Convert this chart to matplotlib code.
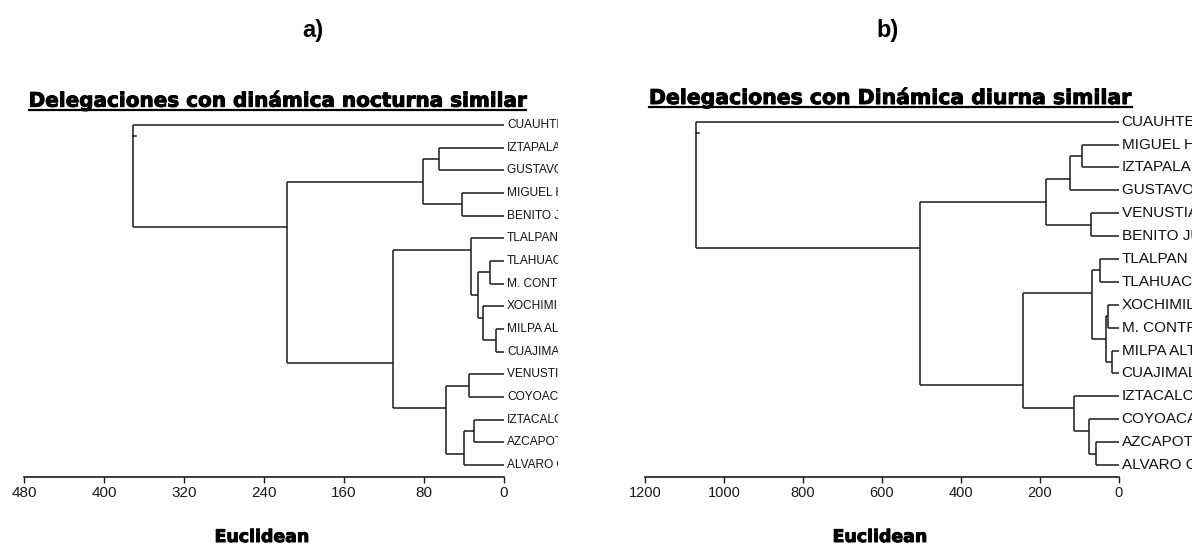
import matplotlib
matplotlib.use("Agg")
import matplotlib.pyplot as plt
import matplotlib.transforms as mtransforms
import matplotlib.patheffects as pe
from matplotlib.lines import Line2D

W, H = 1192, 547

# panel a) - nocturnal dynamics
leaves_a = ["CUAUHTEMOC", "IZTAPALAPA", "GUSTAVO A. MADERO", "MIGUEL HIDALGO",
            "BENITO JUAREZ", "TLALPAN", "TLAHUAC", "M. CONTRERAS", "XOCHIMILCO",
            "MILPA ALTA", "CUAJIMALPA", "VENUSTIANO CARRANZA", "COYOACAN",
            "IZTACALCO", "AZCAPOTZALCO", "ALVARO OBREGON"]
# (upper child, lower child, euclidean distance); new nodes numbered from 16
merges_a = [(9, 10, 7.7), (6, 7, 13.6), (8, 16, 20.6), (17, 18, 25.6),
            (13, 14, 29.6), (5, 19, 33.3), (11, 12, 34.6), (20, 15, 39.6),
            (3, 4, 42.3), (22, 23, 58.3), (1, 2, 65.2), (26, 24, 80.6),
            (21, 25, 111.2), (27, 28, 217.4), (0, 29, 370.8)]
ticks_a = [480, 400, 320, 240, 160, 80, 0]

# panel b) - daytime dynamics
leaves_b = ["CUAUHTEMOC", "MIGUEL HIDALGO", "IZTAPALAPA", "GUSTAVO A. MADERO",
            "VENUSTIANO CARRANZA", "BENITO JUAREZ", "TLALPAN", "TLAHUAC",
            "XOCHIMILCO", "M. CONTRERAS", "MILPA ALTA", "CUAJIMALPA",
            "IZTACALCO", "COYOACAN", "AZCAPOTZALCO", "ALVARO OBREGON"]
merges_b = [(10, 11, 17.0), (8, 9, 28.0), (17, 16, 31.0), (6, 7, 46.5),
            (14, 15, 58.0), (4, 5, 69.0), (19, 18, 67.0), (13, 20, 74.0),
            (1, 2, 92.0), (12, 23, 112.0), (24, 3, 122.5), (26, 21, 183.0),
            (22, 25, 242.5), (27, 28, 504.0), (0, 29, 1070.0)]
ticks_b = [1200, 1000, 800, 600, 400, 200, 0]

LINE = "#1a1a1a"
plt.rcParams["font.family"] = ["Liberation Sans", "DejaVu Sans"]
HEAVY = [pe.withStroke(linewidth=0.7, foreground="black")]

fig = plt.figure(figsize=(W / 100, H / 100), dpi=100)


def px_axes(left, right, top, bottom):
    return fig.add_axes([left / W, 1 - bottom / H, (right - left) / W, (bottom - top) / H])


def draw_dendro(ax, leaves, merges, xmax, label_size, tick_size):
    n = len(leaves)
    nodes = [(i, i, float(i), 0.0) for i in range(n)]
    for a, b, h in merges:
        fa, la, ya, ha = nodes[a]
        fb, lb, yb, hb = nodes[b]
        ax.plot([ha, h], [ya, ya], color=LINE, lw=1.1, solid_capstyle="butt")
        ax.plot([hb, h], [yb, yb], color=LINE, lw=1.1, solid_capstyle="butt")
        ax.plot([h, h], [ya, yb], color=LINE, lw=1.1, solid_capstyle="butt")
        nodes.append((min(fa, fb), max(la, lb), (la + fb) / 2, h))
    # tiny stub of the root
    root = nodes[-1]
    ax.plot([root[3], root[3] - xmax * 0.005], [root[2], root[2]], color=LINE, lw=1.1)
    off = mtransforms.offset_copy(ax.transData, fig=fig, x=3, y=0, units="dots")
    for i, name in enumerate(leaves):
        ax.text(0, i, name, transform=off, fontsize=label_size, ha="left",
                va="center", clip_on=True, color="#111111")
    for s in ["top", "left", "right"]:
        ax.spines[s].set_visible(False)
    ax.spines["bottom"].set_bounds(0, xmax)
    ax.spines["bottom"].set_linewidth(1.2)
    ax.spines["bottom"].set_color(LINE)
    ax.set_yticks([])
    ax.tick_params(axis="x", direction="out", length=4.5, width=1.0, pad=2.5,
                   labelsize=tick_size, colors=LINE)
    ax.patch.set_visible(False)


ax_a = px_axes(24, 558, 102.3, 476.5)
ax_a.set_xlim(480, -54)
ax_a.set_ylim(15.5, -1)
draw_dendro(ax_a, leaves_a, merges_a, 480, 8.6, 11)
ax_a.set_xticks(ticks_a)
ax_a.set_xticklabels([str(t) for t in ticks_a])

ax_b = px_axes(645, 1192, 98.8, 476.5)
ax_b.set_xlim(1200, -185.7)
ax_b.set_ylim(15.5, -1)
draw_dendro(ax_b, leaves_b, merges_b, 1200, 11, 10.5)
ax_b.set_xticks(ticks_b)
ax_b.set_xticklabels([str(t) for t in ticks_b])

# panel letters
fig.text(313 / W, 1 - 30 / H, "a)", fontsize=17, fontweight="bold", ha="center", va="center")
fig.text(888 / W, 1 - 30 / H, "b)", fontsize=17, fontweight="bold", ha="center", va="center")

# axis captions
for xc in (262, 880):
    fig.text(xc / W, 1 - 537 / H, "Euclidean", fontsize=12.5, fontweight="bold",
             family="DejaVu Sans", ha="center", va="center", path_effects=HEAVY)

# underlined headings
heads = [("Delegaciones con dinámica nocturna similar", 28.6, 528, 106.7),
         ("Delegaciones con Dinámica diurna similar", 649, 1132, 104.0)]
texts = []
for s, x0, x1, yb in heads:
    t = fig.text(x0 / W, 1 - yb / H, s, fontsize=14, fontweight="bold",
                 family="DejaVu Sans", ha="left", va="baseline", path_effects=HEAVY)
    texts.append((t, x0, x1, yb))

fig.canvas.draw()
r = fig.canvas.get_renderer()
for t, x0, x1, yb in texts:
    bb = t.get_window_extent(renderer=r)
    t.set_fontsize(t.get_fontsize() * (x1 - x0) / bb.width)
fig.canvas.draw()
for t, x0, x1, yb in texts:
    bb = t.get_window_extent(renderer=r)
    yl = 1 - (yb + 3) / H
    fig.add_artist(Line2D([bb.x0 / W, bb.x1 / W], [yl, yl], color="black", lw=1.6,
                          transform=fig.transFigure))

fig.savefig("out.png", dpi=100)
